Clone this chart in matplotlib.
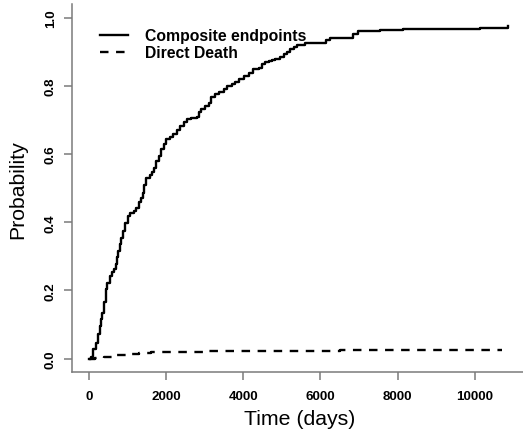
import matplotlib
matplotlib.use("Agg")
import matplotlib.pyplot as plt

plt.rcParams["font.family"] = ["Liberation Sans", "DejaVu Sans"]

# cumulative incidence (step function)
comp_time = [0, 44, 113, 173, 233, 285, 320, 354, 388, 432, 476, 543, 605, 647,
             691, 735, 761, 802, 838, 890, 949, 1009, 1079, 1164, 1234, 1293,
             1356, 1407, 1441, 1493, 1579, 1640, 1682, 1751, 1811, 1873, 1940,
             2010, 2096, 2183, 2287, 2372, 2458, 2546, 2649, 2804, 2864, 2908,
             3019, 3104, 3166, 3278, 3363, 3492, 3580, 3710, 3795, 3881, 4010,
             4139, 4253, 4398, 4485, 4571, 4657, 4744, 4830, 4959, 5045, 5132,
             5218, 5304, 5391, 5606, 6149, 6235, 6856, 6985, 7546, 8149, 10133,
             10866]
comp_prob = [0.0, 0.004, 0.028, 0.047, 0.072, 0.096, 0.116, 0.135, 0.165, 0.204,
             0.223, 0.243, 0.253, 0.262, 0.277, 0.297, 0.316, 0.336, 0.355,
             0.375, 0.399, 0.419, 0.428, 0.433, 0.443, 0.458, 0.472, 0.487,
             0.510, 0.530, 0.538, 0.546, 0.560, 0.580, 0.594, 0.614, 0.629,
             0.643, 0.651, 0.658, 0.671, 0.682, 0.694, 0.704, 0.707, 0.710,
             0.722, 0.733, 0.741, 0.751, 0.768, 0.775, 0.783, 0.790, 0.800,
             0.805, 0.811, 0.821, 0.829, 0.839, 0.848, 0.853, 0.863, 0.870,
             0.873, 0.876, 0.880, 0.886, 0.892, 0.899, 0.907, 0.915, 0.921,
             0.925, 0.934, 0.941, 0.951, 0.961, 0.964, 0.968, 0.971, 0.975]

death_time = [0, 150, 400, 700, 1000, 1300, 1600, 3000, 5000, 6500, 10700]
death_prob = [0.0, 0.003, 0.006, 0.011, 0.015, 0.018, 0.020, 0.021, 0.022,
              0.025, 0.025]

x_ticks = [0, 2000, 4000, 6000, 8000, 10000]
y_ticks = [0.0, 0.2, 0.4, 0.6, 0.8, 1.0]

W, H = 523, 435
fig = plt.figure(figsize=(W / 100, H / 100), dpi=100)
ax = fig.add_axes([72 / W, 1 - 373.3 / H, 454.4 / W, 368.3 / H])

ax.plot(comp_time, comp_prob, drawstyle="steps-post", color="black", lw=1.7,
        label="Composite endpoints")
ax.plot(death_time, death_prob, drawstyle="steps-post", color="black", lw=1.7,
        linestyle=(0, (3.6, 3.2)), label="Direct Death")

ax.set_xlim(-436, 11336)
ax.set_ylim(-0.04, 1.04)

axis_col = "#7a7a7a"
for s in ["top", "right"]:
    ax.spines[s].set_visible(False)
for s in ["left", "bottom"]:
    ax.spines[s].set_color(axis_col)
    ax.spines[s].set_linewidth(1.1)

ax.set_xticks(x_ticks)
ax.set_xticklabels([str(t) for t in x_ticks], fontweight="bold", fontsize=9.6)
ax.set_yticks(y_ticks)
ax.set_yticklabels(["%.1f" % t for t in y_ticks], fontweight="bold",
                   fontsize=9.6, rotation=90, va="center")
ax.tick_params(axis="both", color=axis_col, width=1.1, length=5.5)
ax.tick_params(axis="x", pad=7)
ax.tick_params(axis="y", pad=5.5)

ax.set_xlabel("Time (days)", fontsize=15.3)
ax.set_ylabel("Probability", fontsize=15.3)
ax.xaxis.label.set_va("center")
ax.yaxis.label.set_va("center")
ax.xaxis.set_label_coords(0.5, -(420 - 373.3) / 368.3)
ax.yaxis.set_label_coords(-(72 - 18) / 454.4, 0.5)

leg = ax.legend(loc="upper left", bbox_to_anchor=(100 / W, 1 - 29 / H),
                bbox_transform=fig.transFigure, frameon=False, borderpad=0,
                borderaxespad=0, handlelength=1.8, handletextpad=1.05,
                labelspacing=0.15, prop={"weight": "bold", "size": 11.3})

fig.savefig("out.png", dpi=100)
